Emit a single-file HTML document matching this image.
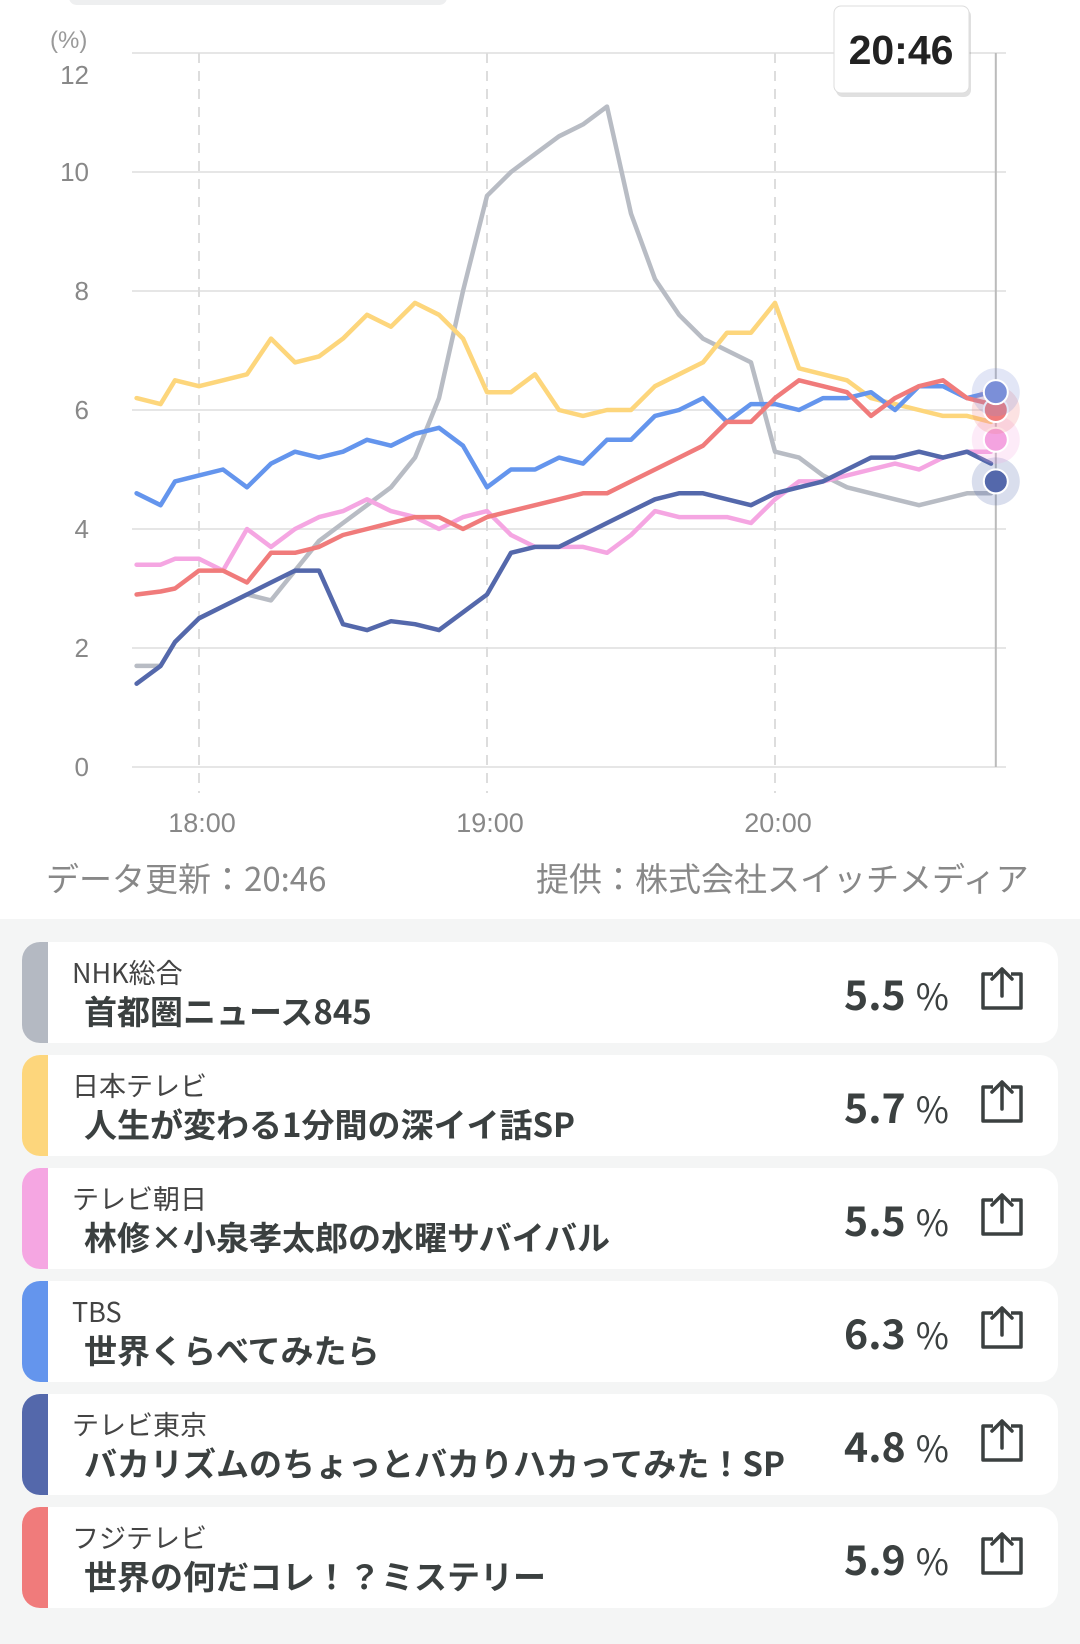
<!DOCTYPE html>
<html><head><meta charset="utf-8">
<style>
body{margin:0;width:1080px;height:1644px;background:#fff;font-family:"Liberation Sans","Noto Sans CJK JP",sans-serif;position:relative;overflow:hidden;color:#333}
.pill{position:absolute;left:69px;top:-10px;width:378px;height:15px;border-radius:8px;background:#eeeff0}
#chart{position:absolute;left:0;top:0}
.foot{position:absolute;top:853px;font-size:33px;color:#888;font-family:"Noto Sans CJK JP",sans-serif}
.panel{position:absolute;left:0;top:919px;width:1080px;height:725px;background:#f4f5f5}
.card{position:absolute;left:22px;width:1036px;height:101px;background:#fff;border-radius:18px;overflow:hidden}
.bar{position:absolute;left:0;top:0;width:26px;height:101px}
.ch{position:absolute;left:50px;top:15px;font-size:27px;color:#444;font-family:"Noto Sans CJK JP",sans-serif;line-height:30px}
.ti{position:absolute;left:62px;top:48px;font-size:33px;font-weight:bold;color:#3b4040;font-family:"Noto Sans CJK JP",sans-serif;line-height:40px;white-space:nowrap}
.pc{position:absolute;left:822px;top:24px;font-size:41px;font-weight:bold;color:#3b4040;font-family:"Noto Sans CJK JP",sans-serif;line-height:52px}
.pc span{font-size:36px;font-weight:normal;margin-left:10px}
.sh{position:absolute;left:957px;top:24px}
</style></head><body>
<div class="pill"></div>
<svg id="chart" width="1080" height="860"></svg>
<div class="foot" style="left:46px">データ更新：20:46</div>
<div class="foot" style="left:536px">提供：株式会社スイッチメディア</div>
<div class="panel"></div>
<div id="cards"></div>
<script>
const NS="http://www.w3.org/2000/svg";
const times=[-13,-8,-5,0,5,10,15,20,25,30,35,40,45,50,55,60,65,70,75,80,85,90,95,100,105,110,115,120,125,130,135,140,145,150,155,160,165];
const nhk=[1.7,1.7,2.1,2.5,2.7,2.9,2.8,3.3,3.8,4.1,4.4,4.7,5.2,6.2,8.0,9.6,10.0,10.3,10.6,10.8,11.1,9.3,8.2,7.6,7.2,7.0,6.8,5.3,5.2,4.9,4.7,4.6,4.5,4.4,4.5,4.6,4.6];
const ntv=[6.2,6.1,6.5,6.4,6.5,6.6,7.2,6.8,6.9,7.2,7.6,7.4,7.8,7.6,7.2,6.3,6.3,6.6,6.0,5.9,6.0,6.0,6.4,6.6,6.8,7.3,7.3,7.8,6.7,6.6,6.5,6.2,6.1,6.0,5.9,5.9,5.8];
const tbs=[4.6,4.4,4.8,4.9,5.0,4.7,5.1,5.3,5.2,5.3,5.5,5.4,5.6,5.7,5.4,4.7,5.0,5.0,5.2,5.1,5.5,5.5,5.9,6.0,6.2,5.8,6.1,6.1,6.0,6.2,6.2,6.3,6.0,6.4,6.4,6.2,6.3];
const ex=[3.4,3.4,3.5,3.5,3.3,4.0,3.7,4.0,4.2,4.3,4.5,4.3,4.2,4.0,4.2,4.3,3.9,3.7,3.7,3.7,3.6,3.9,4.3,4.2,4.2,4.2,4.1,4.5,4.8,4.8,4.9,5.0,5.1,5.0,5.2,5.3,5.3];
const tx=[1.4,1.7,2.1,2.5,2.7,2.9,3.1,3.3,3.3,2.4,2.3,2.45,2.4,2.3,2.6,2.9,3.6,3.7,3.7,3.9,4.1,4.3,4.5,4.6,4.6,4.5,4.4,4.6,4.7,4.8,5.0,5.2,5.2,5.3,5.2,5.3,5.1];
const cx=[2.9,2.95,3.0,3.3,3.3,3.1,3.6,3.6,3.7,3.9,4.0,4.1,4.2,4.2,4.0,4.2,4.3,4.4,4.5,4.6,4.6,4.8,5.0,5.2,5.4,5.8,5.8,6.2,6.5,6.4,6.3,5.9,6.2,6.4,6.5,6.2,6.1];
const yTicks=[0,2,4,6,8,10,12];
const xTickMin=[0,60,120];
const xTickLabels=["18:00","19:00","20:00"];
const endMin=166;
const endDotValues=[4.8,5.5,6.0,6.3];
const endDotColors=["#5468ab","#f4a3e0","#f07b7b","#7b8fd8"];
const X=m=>199+m*4.8, Y=v=>767-v*59.5;
const svg=document.getElementById('chart');
function mk(t,a,p){const e=document.createElementNS(NS,t);for(const k in a)e.setAttribute(k,a[k]);(p||svg).appendChild(e);return e;}
yTicks.forEach(v=>{
 const l=mk('line',{x1:132,x2:1006,y1:Y(v),y2:Y(v),stroke:'#e6e6e6','stroke-width':2});
 
 
 const ly=v===12?Y(v)+31:Y(v)+9;
 const t=mk('text',{x:89,y:ly,'text-anchor':'end','font-size':26,fill:'#888','font-family':'Liberation Sans,sans-serif'});
 t.textContent=v;
 
 
});
const u=mk('text',{x:50,y:48,'font-size':24,fill:'#999','font-family':'Liberation Sans,sans-serif'});u.textContent='(%)';


xTickMin.forEach((m,i)=>{
 const l=mk('line',{x1:X(m),x2:X(m),y1:53,y2:793,stroke:'#ddd','stroke-width':2,'stroke-dasharray':'10 8'});
 
 
 const t=mk('text',{x:X(m)+3,y:832,'text-anchor':'middle','font-size':27,fill:'#888','font-family':'Liberation Sans,sans-serif'});
 t.textContent=xTickLabels[i];
 
 
});
const cur=mk('line',{x1:X(endMin),x2:X(endMin),y1:53,y2:767,stroke:'#bbb','stroke-width':2});


const series=[["nhk",nhk,"#b8bcc4"],["ntv",ntv,"#fdd67c"],["ex",ex,"#f5a6e2"],["tbs",tbs,"#6495ed"],["tx",tx,"#5468ab"],["cx",cx,"#f07b7b"]];
series.forEach(s=>{
 const d=s[1].map((v,i)=>(i?'L':'M')+X(times[i]).toFixed(1)+','+Y(v).toFixed(1)).join('');
 const p=mk('path',{d:d,fill:'none',stroke:s[2],'stroke-width':4.5,'stroke-linejoin':'round','stroke-linecap':'round'});
 
 
});
endDotValues.forEach((v,i)=>{
 const h=mk('circle',{cx:X(endMin),cy:Y(v),r:24,fill:endDotColors[i],opacity:0.22});
 
 
 const c=mk('circle',{cx:X(endMin),cy:Y(v),r:12,fill:endDotColors[i],stroke:'#fff','stroke-width':2});
 
 
});
const g=mk('g',{});


mk('rect',{x:836,y:9,width:135,height:88,rx:7,fill:'#000',opacity:0.12},g);
mk('rect',{x:834,y:6,width:135,height:87,rx:7,fill:'#fff',stroke:'#ddd'},g);
const tt=mk('text',{x:901,y:64,'text-anchor':'middle','font-size':41,'font-weight':'bold',fill:'#222','font-family':'Liberation Sans,sans-serif'},g);tt.textContent='20:46';

const channels=["NHK総合","日本テレビ","テレビ朝日","TBS","テレビ東京","フジテレビ"];
const titles=["首都圏ニュース845","人生が変わる1分間の深イイ話SP","林修×小泉孝太郎の水曜サバイバル","世界くらべてみたら","バカリズムのちょっとバカりハカってみた！SP","世界の何だコレ！？ミステリー"];
const ratings=["5.5","5.7","5.5","6.3","4.8","5.9"];
const barColors=["#b4b9c2","#fdd67c","#f5a6e2","#6495ed","#5468ab","#f07b7b"];
const wrap=document.getElementById('cards');
channels.forEach((c,i)=>{
 const d=document.createElement('div');d.className='card';d.style.top=(942+i*113)+'px';
 
 
 d.innerHTML='<div class="bar" style="background:'+barColors[i]+'"></div>'+
 '<div class="ch">'+c+'</div>'+
 '<div class="ti">'+titles[i]+'</div>'+
 '<div class="pc">'+ratings[i]+'<span>%</span></div>'+
 '<svg class="sh" width="46" height="46" viewBox="0 0 46 46"><path d="M14 8H4v34h38V8H32" fill="none" stroke="#3b4040" stroke-width="3.5" stroke-linejoin="round"/><path d="M23 30V3M13 13L23 3L33 13" fill="none" stroke="#3b4040" stroke-width="3.5" stroke-linecap="round" stroke-linejoin="round"/></svg>';
 wrap.appendChild(d);
});
</script>
</body></html>
